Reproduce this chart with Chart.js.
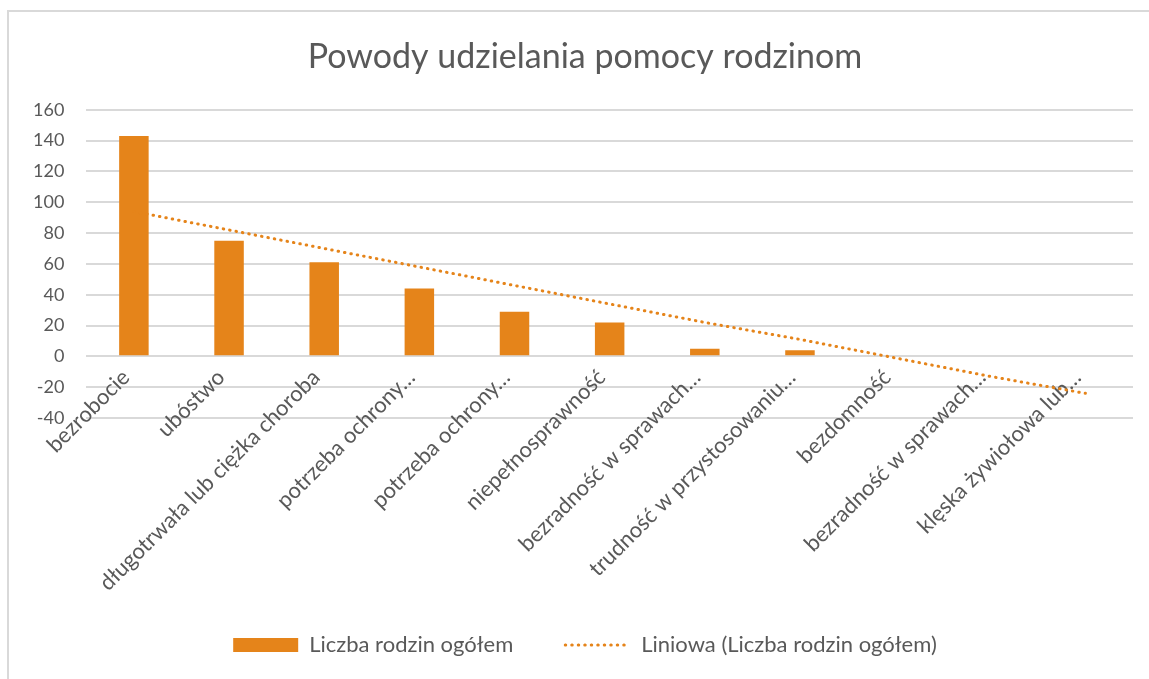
<!DOCTYPE html>
<html>
<head>
<meta charset="utf-8">
<script src="https://cdn.jsdelivr.net/npm/chart.js@4.4.0/dist/chart.umd.min.js"></script>
<style>
    html, body { margin: 0; padding: 0; background: #fff; }
    #wrap { position: relative; width: 1149px; height: 679px; overflow: hidden; }
    #frame { position: absolute; left: 7px; top: 10px; width: 1200px; height: 700px;
             border-left: 2px solid #d9d9d9; border-top: 2px solid #d9d9d9; }
    #chart { position: absolute; left: 0; top: 0; }
</style>
</head>
<body>
<div id="wrap">
    <div id="frame"></div>
    <canvas id="chart" width="1149" height="679"></canvas>
</div>
<script>
// dane
const categories = [
    'bezrobocie',
    'ubóstwo',
    'długotrwała lub ciężka choroba',
    'potrzeba ochrony…',
    'potrzeba ochrony…',
    'niepełnosprawność',
    'bezradność w sprawach…',
    'trudność w przystosowaniu…',
    'bezdomność',
    'bezradność w sprawach…',
    'klęska żywiołowa lub…'
];
const familyCounts = [143, 75, 61, 44, 29, 22, 5, 4, 0, 0, 0];
// linia trendu (liniowa) odczytana w punktach kategorii
const trendValues = [94, 82, 70, 58, 46, 34, 22, 11, -1, -13, -24];
const yTicks = [-40, -20, 0, 20, 40, 60, 80, 100, 120, 140, 160];

const orange = '#E5841A';
const textGray = '#595959';
const gridGray = '#d9d9d9';
const fontFamily = 'Lato, "Open Sans", sans-serif';

// etykiety kategorii stoja przy linii 0 (jak w Excelu), nie pod obszarem wykresu
const labelsAtZero = {
    id: 'labelsAtZero',
    afterLayout(chart) {
        const x = chart.scales.x;
        x.top = chart.scales.y.getPixelForValue(0);
        x.bottom = chart.height;
    }
};

new Chart(document.getElementById('chart').getContext('2d'), {
    type: 'bar',
    data: {
        labels: categories,
        datasets: [{
            type: 'bar',
            label: 'Liczba rodzin ogółem',
            data: familyCounts,
            backgroundColor: orange,
            borderWidth: 0,
            categoryPercentage: 1,
            barPercentage: 0.31,
            pointStyle: 'rect',
            order: 2
        }, {
            type: 'line',
            label: 'Liniowa (Liczba rodzin ogółem)',
            data: trendValues,
            borderColor: orange,
            backgroundColor: orange,
            borderWidth: 3,
            borderDash: [0.5, 6],
            borderCapStyle: 'round',
            pointRadius: 0,
            pointStyle: 'line',
            fill: false,
            order: 1
        }]
    },
    options: {
        responsive: false,
        animation: false,
        layout: { padding: { top: 37, left: 11, right: -10, bottom: 13 } },
        scales: {
            x: {
                grid: { display: false },
                border: { display: false },
                ticks: {
                    color: textGray,
                    font: { family: fontFamily, size: 22 },
                    minRotation: 45,
                    maxRotation: 45,
                    autoSkip: false,
                    padding: 0,
                    labelOffset: -8
                },
                afterFit: scale => {
                    scale.height = 164;
                    scale.paddingLeft = 0;
                    scale.paddingRight = 16;
                }
            },
            y: {
                min: -40,
                max: 160,
                afterBuildTicks: axis => { axis.ticks = yTicks.map(v => ({ value: v })); },
                grid: { color: gridGray, lineWidth: 2, drawTicks: false },
                border: { display: false },
                ticks: {
                    color: textGray,
                    font: { family: fontFamily, size: 18 },
                    padding: 22
                }
            }
        },
        plugins: {
            title: {
                display: true,
                text: 'Powody udzielania pomocy rodzinom',
                color: textGray,
                font: { family: fontFamily, size: 34, weight: 'normal' },
                padding: { top: 0, bottom: 32 }
            },
            legend: {
                position: 'bottom',
                labels: {
                    usePointStyle: true,
                    pointStyleWidth: 65,
                    boxHeight: 14,
                    boxWidth: 65,
                    color: textGray,
                    font: { family: fontFamily, size: 22 },
                    padding: 52,
                    sort: (a, b) => a.datasetIndex - b.datasetIndex,
                    generateLabels: chart => {
                        const items = Chart.defaults.plugins.legend.labels.generateLabels(chart);
                        items.forEach(item => {
                            if (item.datasetIndex === 1) {
                                item.lineDash = [0.5, 6];
                                item.lineCap = 'round';
                                item.lineWidth = 3;
                                item.strokeStyle = orange;
                            } else {
                                item.lineWidth = 0;
                            }
                        });
                        return items;
                    }
                }
            },
            tooltip: { enabled: false }
        }
    },
    plugins: [labelsAtZero]
});
</script>
</body>
</html>
